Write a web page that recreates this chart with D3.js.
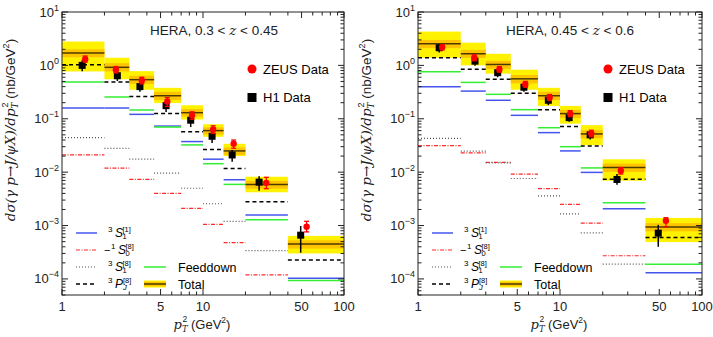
<!DOCTYPE html>
<html>
<head>
<meta charset="utf-8">
<script src="https://cdn.jsdelivr.net/npm/d3@7"></script>
<style>
  body { margin: 0; background: #fff; }
  text { font-family: "Liberation Sans", Arial, sans-serif; }
</style>
</head>
<body>
<svg id="chart" width="713" height="337"></svg>
<script>
// pT^2 bins (GeV^2), shared by both panels
const binEdges = [1, 2, 3, 4.5, 7, 10, 14, 20, 40, 100];
const xTickLabels = [1, 5, 10, 50, 100];
const yTickExps = [1, 0, -1, -2, -3, -4];

// ---- left panel: 0.3 < z < 0.45 ----
const leftTotal   = [1.70, 0.92, 0.54, 0.27, 0.130, 0.060, 0.025, 0.0059, 0.00045];
const leftOuterHi = [2.8, 1.39, 0.78, 0.38, 0.179, 0.079, 0.034, 0.0082, 0.00064];
const leftOuterLo = [0.77, 0.55, 0.35, 0.197, 0.097, 0.046, 0.020, 0.0042, 0.00030];
const leftInnerHi = [2.0, 1.1, 0.64, 0.32, 0.152, 0.069, 0.029, 0.0069, 0.00053];
const leftInnerLo = [1.42, 0.77, 0.45, 0.225, 0.110, 0.051, 0.021, 0.0049, 0.00037];
const leftPJ8   = [1.03, 0.49, 0.26, 0.125, 0.057, 0.0265, 0.0117, 0.0028, 0.000227];
const leftFeed  = [0.49, 0.256, 0.146, 0.070, 0.0324, 0.0144, 0.0059, 0.00129, 0.000093];
const leftS11   = [0.159, 0.159, 0.121, 0.073, 0.0374, 0.0175, 0.0072, 0.00157, 0.000103];
const leftS18   = [0.0445, 0.028, 0.0175, 0.0096, 0.0050, 0.00256, 0.0012, 0.00034, null];
const leftS08   = [0.021, 0.0119, 0.0073, 0.0040, 0.0021, 0.00105, 0.00048, 0.000119, null];

const leftH1x  = [1.39, 2.47, 3.57, 5.47, 8.18, 11.6, 16.1, 25, 49.3];
const leftH1y  = [1.0, 0.64, 0.40, 0.176, 0.094, 0.047, 0.021, 0.0065, 0.00066];
const leftH1lo = [0.78, 0.51, 0.32, 0.134, 0.070, 0.035, 0.0157, 0.0045, 0.00031];
const leftH1hi = [1.25, 0.77, 0.49, 0.22, 0.115, 0.058, 0.026, 0.0084, 0.00098];
const leftZEUSx  = [1.46, 2.41, 3.68, 5.58, 8.36, 11.8, 16.5, 28.1, 54.3];
const leftZEUSy  = [1.30, 0.83, 0.52, 0.21, 0.116, 0.063, 0.034, 0.0063, 0.00095];
const leftZEUSlo = [1.15, 0.72, 0.45, 0.17, 0.098, 0.053, 0.028, 0.0049, 0.00076];
const leftZEUShi = [1.5, 0.95, 0.6, 0.25, 0.135, 0.074, 0.040, 0.0080, 0.0012];

// ---- right panel: 0.45 < z < 0.6 ----
const rightTotal   = [2.54, 1.65, 1.04, 0.56, 0.27, 0.125, 0.052, 0.0122, 0.00094];
const rightOuterHi = [4.3, 2.66, 1.65, 0.83, 0.38, 0.174, 0.076, 0.0174, 0.00139];
const rightOuterLo = [1.39, 1.0, 0.70, 0.35, 0.174, 0.081, 0.032, 0.0069, 0.00049];
const rightInnerHi = [3.0, 1.95, 1.22, 0.66, 0.32, 0.147, 0.061, 0.0145, 0.00111];
const rightInnerLo = [2.1, 1.38, 0.86, 0.46, 0.225, 0.104, 0.043, 0.0101, 0.00078];
const rightPJ8  = [1.39, 0.85, 0.55, 0.30, 0.148, 0.072, 0.031, 0.0074, 0.0006];
const rightFeed = [0.76, 0.48, 0.287, 0.148, 0.068, 0.030, 0.012, 0.00267, 0.000188];
const rightS11  = [0.40, 0.33, 0.222, 0.116, 0.055, 0.025, 0.0099, 0.00206, 0.000131];
const rightS18  = [0.043, 0.0247, 0.0149, 0.0076, 0.0036, 0.00166, 0.00073, 0.00019, null];
const rightS08  = [0.0315, 0.023, 0.0152, 0.0092, 0.0049, 0.0025, 0.00111, 0.000272, null];

const rightH1x  = [1.41, 2.52, 3.64, 5.57, 8.28, 11.6, 16.3, 25.2, 49.2];
const rightH1y  = [2.14, 1.2, 0.73, 0.39, 0.222, 0.105, 0.050, 0.0073, 0.00072];
const rightH1lo = [1.75, 0.98, 0.6, 0.32, 0.18, 0.088, 0.041, 0.0058, 0.0004];
const rightH1hi = [2.5, 1.42, 0.86, 0.46, 0.26, 0.124, 0.059, 0.0092, 0.00103];
const rightZEUSx  = [1.48, 2.49, 3.74, 5.7, 8.45, 11.8, 16.6, 26.8, 55.7];
const rightZEUSy  = [2.18, 1.39, 0.84, 0.44, 0.25, 0.125, 0.053, 0.0106, 0.00123];
const rightZEUSlo = [1.95, 1.22, 0.75, 0.39, 0.22, 0.11, 0.046, 0.0092, 0.00095];
const rightZEUShi = [2.42, 1.58, 0.95, 0.5, 0.285, 0.142, 0.061, 0.0122, 0.0014];

const serif = "'DejaVu Serif', 'Liberation Serif', serif";
const YELLOW = "#fff200", ORANGE = "#ffc400", TOTAL_LINE = "#4a3a00";

// line styles of the individual channels
const styles = {
  S11:  { color: "#4455ee", dash: null, width: 1.5 },
  S08:  { color: "#ff2a2a", dash: "4,1.5,1,1.5", width: 1.2 },
  S18:  { color: "#555", dash: "1,2", width: 1.2 },
  PJ8:  { color: "#000", dash: "4,3", width: 1.5 },
  Feed: { color: "#33ee33", dash: null, width: 1.5 }
};

const panels = [
  { left: 62, right: 344, zlo: "0.3", zhi: "0.45",
    total: leftTotal, outerHi: leftOuterHi, outerLo: leftOuterLo, innerHi: leftInnerHi, innerLo: leftInnerLo,
    comps: { S11: leftS11, S08: leftS08, S18: leftS18, PJ8: leftPJ8, Feed: leftFeed },
    h1: { x: leftH1x, y: leftH1y, lo: leftH1lo, hi: leftH1hi },
    zeus: { x: leftZEUSx, y: leftZEUSy, lo: leftZEUSlo, hi: leftZEUShi } },
  { left: 418, right: 702, zlo: "0.45", zhi: "0.6",
    total: rightTotal, outerHi: rightOuterHi, outerLo: rightOuterLo, innerHi: rightInnerHi, innerLo: rightInnerLo,
    comps: { S11: rightS11, S08: rightS08, S18: rightS18, PJ8: rightPJ8, Feed: rightFeed },
    h1: { x: rightH1x, y: rightH1y, lo: rightH1lo, hi: rightH1hi },
    zeus: { x: rightZEUSx, y: rightZEUSy, lo: rightZEUSlo, hi: rightZEUShi } }
];

const svg = d3.select("#chart");
const TOP = 12, BOTTOM = 295;

panels.forEach(p => drawPanel(svg, p));

function drawPanel(svg, p) {
  const x = d3.scaleLog().domain([1, 100]).range([p.left, p.right]);
  const y = d3.scaleLog().domain([5e-5, 10]).range([BOTTOM, TOP]);
  const g = svg.append("g");
  const bins = d3.range(binEdges.length - 1);

  // total: uncertainty bands + central line
  g.selectAll(".outer").data(bins).enter().append("rect")
    .attr("x", i => x(binEdges[i])).attr("width", i => x(binEdges[i + 1]) - x(binEdges[i]))
    .attr("y", i => y(p.outerHi[i])).attr("height", i => y(p.outerLo[i]) - y(p.outerHi[i]))
    .attr("fill", YELLOW);
  g.selectAll(".inner").data(bins).enter().append("rect")
    .attr("x", i => x(binEdges[i])).attr("width", i => x(binEdges[i + 1]) - x(binEdges[i]))
    .attr("y", i => y(p.innerHi[i])).attr("height", i => y(p.innerLo[i]) - y(p.innerHi[i]))
    .attr("fill", ORANGE);

  // channel contributions, one flat segment per bin
  ["S08", "S18", "S11", "Feed", "PJ8"].forEach(k => {
    const st = styles[k];
    const vals = p.comps[k];
    g.selectAll(".c" + k).data(bins.filter(i => vals[i] != null)).enter().append("line")
      .attr("x1", i => x(binEdges[i])).attr("x2", i => x(binEdges[i + 1]))
      .attr("y1", i => y(vals[i])).attr("y2", i => y(vals[i]))
      .attr("stroke", st.color).attr("stroke-width", st.width)
      .attr("stroke-dasharray", st.dash);
  });

  g.selectAll(".tot").data(bins).enter().append("line")
    .attr("x1", i => x(binEdges[i])).attr("x2", i => x(binEdges[i + 1]))
    .attr("y1", i => y(p.total[i])).attr("y2", i => y(p.total[i]))
    .attr("stroke", TOTAL_LINE).attr("stroke-width", 1.5);

  // H1 data: black squares
  const h1 = p.h1;
  g.selectAll(".h1err").data(h1.x).enter().append("line")
    .attr("x1", d => x(d)).attr("x2", d => x(d))
    .attr("y1", (d, i) => y(h1.lo[i])).attr("y2", (d, i) => y(h1.hi[i]))
    .attr("stroke", "#000").attr("stroke-width", 1.5);
  g.selectAll(".h1pt").data(h1.x).enter().append("rect")
    .attr("x", d => x(d) - 3.5).attr("y", (d, i) => y(h1.y[i]) - 3.5)
    .attr("width", 7).attr("height", 7).attr("fill", "#000");

  // ZEUS data: red circles with capped bars
  const ze = p.zeus;
  const zg = g.selectAll(".zeus").data(ze.x).enter().append("g");
  zg.append("line")
    .attr("x1", d => x(d)).attr("x2", d => x(d))
    .attr("y1", (d, i) => y(ze.lo[i])).attr("y2", (d, i) => y(ze.hi[i]))
    .attr("stroke", "#f00").attr("stroke-width", 1.3);
  ["lo", "hi"].forEach(k => {
    zg.append("line")
      .attr("x1", d => x(d) - 2.5).attr("x2", d => x(d) + 2.5)
      .attr("y1", (d, i) => y(ze[k][i])).attr("y2", (d, i) => y(ze[k][i]))
      .attr("stroke", "#f00").attr("stroke-width", 1.3);
  });
  zg.append("circle")
    .attr("cx", d => x(d)).attr("cy", (d, i) => y(ze.y[i])).attr("r", 3.2)
    .attr("fill", "#f00");

  drawFrame(g, x, y, p);
  drawLegend(g, p);
  drawLabels(g, x, p);
}

function drawFrame(g, x, y, p) {
  g.append("rect")
    .attr("x", p.left).attr("y", TOP)
    .attr("width", p.right - p.left).attr("height", BOTTOM - TOP)
    .attr("fill", "none").attr("stroke", "#222").attr("stroke-width", 1);

  // x ticks on bottom and top, pointing inward
  const xt = [];
  [1, 10].forEach(dec => d3.range(1, 10).forEach(k => xt.push(k * dec)));
  xt.push(100);
  xt.forEach(v => {
    const len = xTickLabels.includes(v) ? 6 : 3.5;
    g.append("line").attr("x1", x(v)).attr("x2", x(v))
      .attr("y1", BOTTOM).attr("y2", BOTTOM - len).attr("stroke", "#222");
    g.append("line").attr("x1", x(v)).attr("x2", x(v))
      .attr("y1", TOP).attr("y2", TOP + len).attr("stroke", "#222");
  });
  xTickLabels.forEach(v => {
    g.append("text").attr("x", x(v)).attr("y", 311)
      .attr("text-anchor", "middle").attr("font-size", 13).attr("fill", "#222")
      .text(v);
  });

  // y ticks on left and right
  const yt = [];
  d3.range(-5, 1).forEach(e => d3.range(1, 10).forEach(k => {
    const v = k * Math.pow(10, e);
    if (v >= 5e-5 * 0.999) yt.push({ v: v, major: k === 1 });
  }));
  yt.push({ v: 10, major: true });
  yt.forEach(t => {
    const len = t.major ? 6 : 3.5;
    g.append("line").attr("x1", p.left).attr("x2", p.left + len)
      .attr("y1", y(t.v)).attr("y2", y(t.v)).attr("stroke", "#222");
    g.append("line").attr("x1", p.right).attr("x2", p.right - len)
      .attr("y1", y(t.v)).attr("y2", y(t.v)).attr("stroke", "#222");
  });
  yTickExps.forEach(e => {
    const t = g.append("text").attr("x", p.left - 3).attr("y", y(Math.pow(10, e)) + 4.5)
      .attr("text-anchor", "end").attr("font-size", 13).attr("fill", "#222");
    t.append("tspan").text("10");
    t.append("tspan").attr("dy", -6).attr("font-size", 9)
      .text(e < 0 ? "\u2212" + (-e) : String(e));
  });
}

// spectroscopic label like 3S1[1]
function stateLabel(g, x0, y0, minus, n, L, sub, sup) {
  let xx = x0;
  if (minus) {
    g.append("text").attr("x", xx).attr("y", y0).attr("font-size", 11).text("\u2212");
    xx += 7;
  }
  g.append("text").attr("x", xx).attr("y", y0 - 5).attr("font-size", 8).text(n);
  xx += 7;
  g.append("text").attr("x", xx).attr("y", y0).attr("font-size", 12)
    .attr("font-family", serif).attr("font-style", "italic").text(L);
  xx += L === "P" ? 8 : 7.5;
  g.append("text").attr("x", xx).attr("y", y0 + 2).attr("font-size", 7.5)
    .attr("font-family", sub === "J" ? serif : null).attr("font-style", sub === "J" ? "italic" : null)
    .text(sub);
  g.append("text").attr("x", xx).attr("y", y0 - 5.5).attr("font-size", 7.5).text(sup);
}

function drawLegend(g, p) {
  const lx1 = p.left + 14, lx2 = p.left + 35, tx = p.left + 46;
  const rows = [233, 250, 267, 284];
  const items = [
    { k: "S11", minus: false, n: "3", L: "S", sub: "1", sup: "[1]" },
    { k: "S08", minus: true,  n: "1", L: "S", sub: "0", sup: "[8]" },
    { k: "S18", minus: false, n: "3", L: "S", sub: "1", sup: "[8]" },
    { k: "PJ8", minus: false, n: "3", L: "P", sub: "J", sup: "[8]" }
  ];
  items.forEach((it, r) => {
    const st = styles[it.k];
    g.append("line").attr("x1", lx1).attr("x2", lx2).attr("y1", rows[r]).attr("y2", rows[r])
      .attr("stroke", st.color).attr("stroke-width", st.width).attr("stroke-dasharray", st.dash);
    stateLabel(g, it.minus ? tx - 4 : tx, rows[r] + 4, it.minus, it.n, it.L, it.sub, it.sup);
  });

  const cx1 = p.left + 82, cx2 = p.left + 104, ctx = p.left + 116;
  g.append("line").attr("x1", cx1).attr("x2", cx2).attr("y1", rows[2]).attr("y2", rows[2])
    .attr("stroke", styles.Feed.color).attr("stroke-width", 1.5);
  g.append("text").attr("x", ctx).attr("y", rows[2] + 4.5).attr("font-size", 12.5).text("Feeddown");

  g.append("rect").attr("x", cx1).attr("y", rows[3] - 3.5).attr("width", cx2 - cx1).attr("height", 7)
    .attr("fill", YELLOW);
  g.append("rect").attr("x", cx1).attr("y", rows[3] - 2.2).attr("width", cx2 - cx1).attr("height", 4.4)
    .attr("fill", ORANGE);
  g.append("line").attr("x1", cx1).attr("x2", cx2).attr("y1", rows[3]).attr("y2", rows[3])
    .attr("stroke", TOTAL_LINE).attr("stroke-width", 1.5);
  g.append("text").attr("x", ctx).attr("y", rows[3] + 4.5).attr("font-size", 12.5).text("Total");

  // data legend
  const mx = p.left + 190;
  g.append("circle").attr("cx", mx).attr("cy", 69).attr("r", 4.5).attr("fill", "#f00");
  g.append("text").attr("x", mx + 11).attr("y", 73.5).attr("font-size", 13).text("ZEUS Data");
  g.append("rect").attr("x", mx - 4.5).attr("y", 93).attr("width", 9).attr("height", 9).attr("fill", "#000");
  g.append("text").attr("x", mx + 11).attr("y", 102).attr("font-size", 13).text("H1 Data");
}

function drawLabels(g, x, p) {
  // panel title
  const t = g.append("text").attr("x", p.left + 88).attr("y", 35).attr("font-size", 13.5).attr("fill", "#222");
  t.append("tspan").text("HERA, " + p.zlo + " < ");
  t.append("tspan").attr("font-family", serif).attr("font-style", "italic").text("z");
  t.append("tspan").text(" < " + p.zhi);

  // x axis title
  const cx = (p.left + p.right) / 2;
  const xt = g.append("text").attr("x", cx - 1).attr("y", 329).attr("text-anchor", "middle")
    .attr("font-size", 13).attr("fill", "#222");
  xt.append("tspan").attr("font-family", serif).attr("font-style", "italic").text("p");
  xt.append("tspan").attr("dy", 3).attr("font-size", 8.5).attr("font-family", serif).attr("font-style", "italic").text("T");
  xt.append("tspan").attr("dx", -5).attr("dy", -10).attr("font-size", 8.5).text("2");
  xt.append("tspan").attr("dy", 7).text(" (GeV");
  xt.append("tspan").attr("dy", -6).attr("font-size", 8.5).text("2");
  xt.append("tspan").attr("dy", 6).text(")");

  // y axis title
  const yt = g.append("text").attr("transform", "translate(" + (p.left - 47) + ",130) rotate(-90)")
    .attr("text-anchor", "middle").attr("font-size", 13.5).attr("fill", "#222");
  yt.append("tspan").attr("font-family", serif).attr("font-style", "italic")
    .text("d\u03c3(\u03b3 p\u2192J/\u03c8X)/dp");
  yt.append("tspan").attr("dy", 3).attr("font-size", 9).attr("font-family", serif).attr("font-style", "italic").text("T");
  yt.append("tspan").attr("dx", -5).attr("dy", -10).attr("font-size", 9).text("2");
  yt.append("tspan").attr("dy", 7).text(" (nb/GeV");
  yt.append("tspan").attr("dy", -6).attr("font-size", 9).text("2");
  yt.append("tspan").attr("dy", 6).text(")");
}
</script>
</body>
</html>
